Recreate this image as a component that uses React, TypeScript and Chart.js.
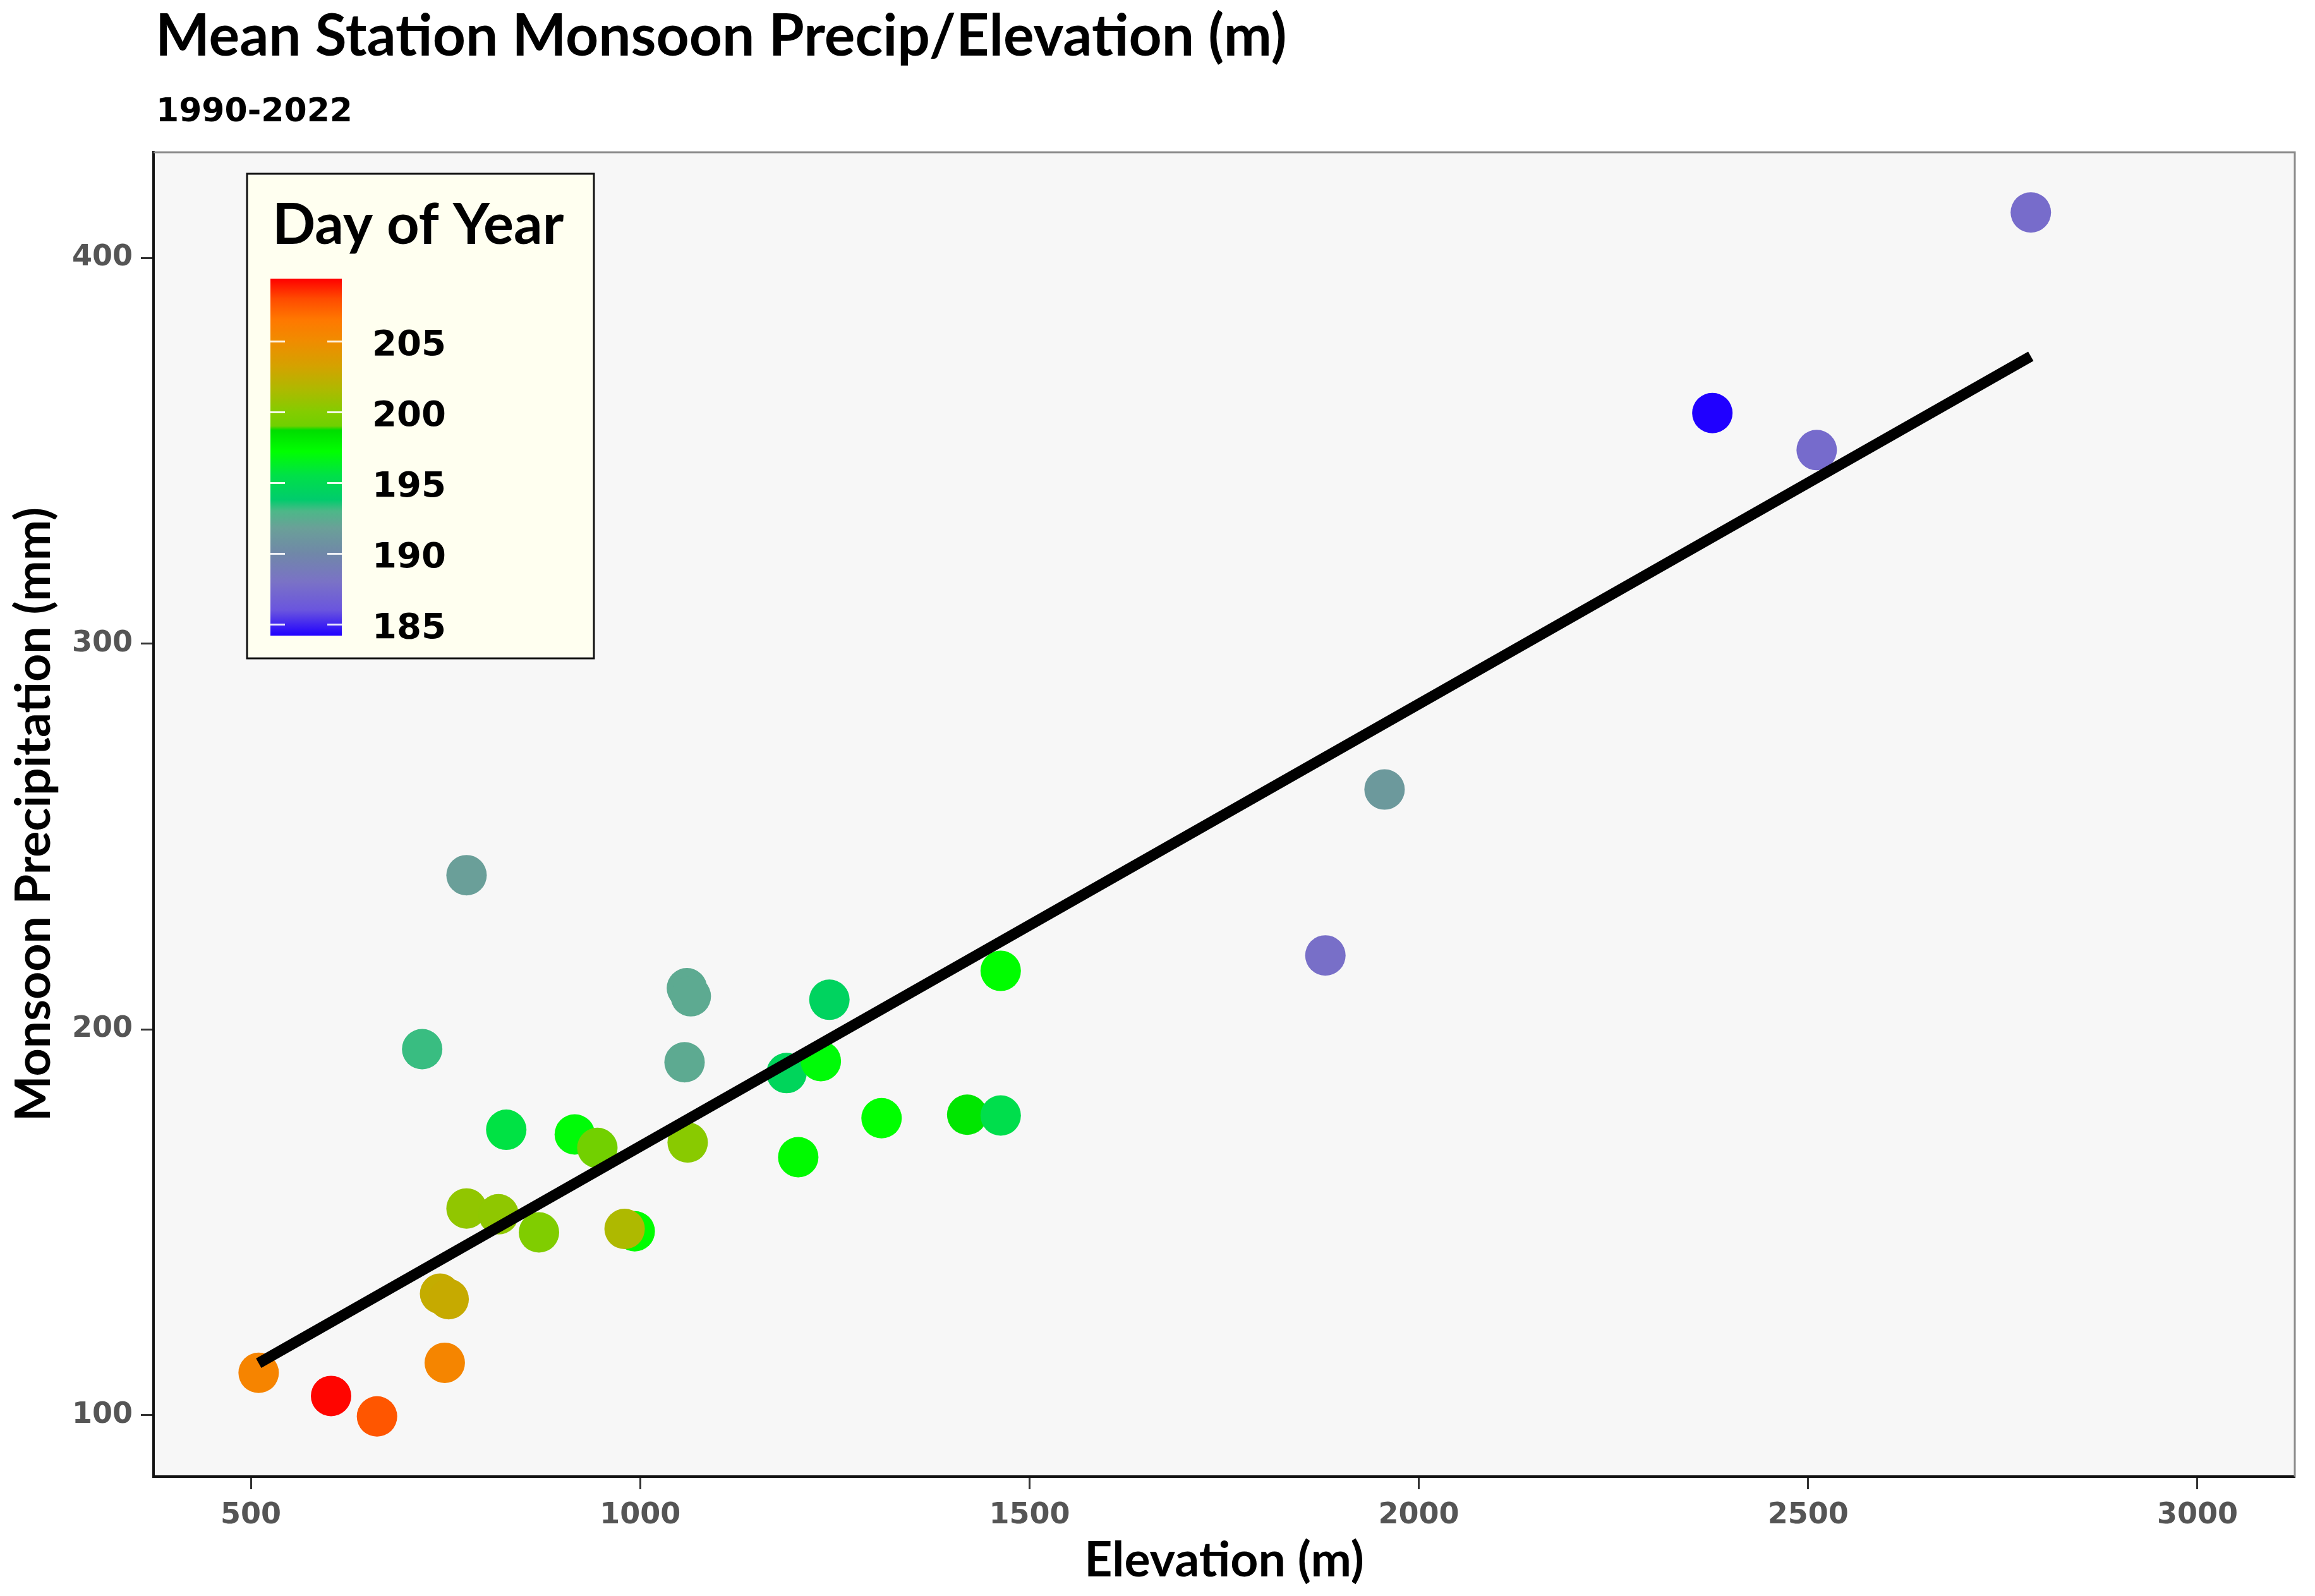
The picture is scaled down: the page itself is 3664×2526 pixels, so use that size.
import React, { useEffect, useRef } from "react";
import { Chart, registerables } from "chart.js";

Chart.register(...registerables);

// ---- Data ----
const elevation = [510, 603, 662, 749, 743, 754, 777, 818, 870, 993, 980, 828, 916, 945, 1061, 1203, 1310, 1420, 1463, 1188, 1232, 1243, 1463, 1057, 1060, 1065, 720, 777, 1956, 1880, 2786, 2377, 2511];
const precip = [111.0, 105.0, 99.7, 113.6, 131.5, 130.1, 153.6, 152.1, 147.4, 147.7, 148.3, 174.0, 172.8, 169.3, 170.7, 166.9, 177.0, 177.9, 177.7, 188.7, 191.8, 207.7, 215.2, 191.5, 210.7, 208.6, 194.9, 240.0, 262.2, 219.2, 411.8, 359.8, 350.2];
const dayOfYear = [205.6, 209.3, 207.6, 205.5, 202.5, 202.6, 200.5, 200.4, 199.8, 197.3, 201.6, 195.6, 197.0, 199.1, 200.2, 197.4, 197.2, 198.3, 195.3, 194.6, 197.0, 194.4, 197.3, 192.3, 192.3, 192.3, 193.2, 191.7, 191.3, 187.8, 187.6, 184.2, 187.5];

const fitLineX = [510, 2786];
const fitLineY = [113.5, 374.5];

const xTicks = [500, 1000, 1500, 2000, 2500, 3000];
const yTicks = [100, 200, 300, 400];
const legendTicks = [185, 190, 195, 200, 205];

const dayMin = 184.2;
const dayMax = 209.4;
const gradientDays = [184.2, 186.0, 188.0, 190.0, 191.8, 193.0, 193.8, 195.5, 197.2, 198.7, 199.0, 200.0, 201.5, 203.2, 205.0, 206.5, 208.0, 209.4];
const gradientColors = ["#2000FF", "#6A55DE", "#7A72C6", "#7088A8", "#6AA098", "#4CB888", "#00CC6C", "#00E048", "#00FF00", "#00DD00", "#70D000", "#84CC00", "#ACBA00", "#D4A200", "#F08C00", "#FF7800", "#FF4A00", "#FF0000"];

const titleText = "Mean Station Monsoon Precip/Elevation (m)";
const subtitleText = "1990-2022";
const xTitle = "Elevation (m)";
const yTitle = "Monsoon Precipitation (mm)";
const legendTitle = "Day of Year";

function hexToRgb(h: string) {
  const n = parseInt(h.slice(1), 16);
  return [(n >> 16) & 255, (n >> 8) & 255, n & 255];
}
function colorFor(d: number) {
  if (d <= gradientDays[0]) return gradientColors[0];
  for (let i = 1; i < gradientDays.length; i++) {
    if (d <= gradientDays[i]) {
      const t = (d - gradientDays[i - 1]) / (gradientDays[i] - gradientDays[i - 1]);
      const a = hexToRgb(gradientColors[i - 1]);
      const b = hexToRgb(gradientColors[i]);
      const c = a.map((v, k) => Math.round(v + (b[k] - v) * t));
      return `rgb(${c[0]},${c[1]},${c[2]})`;
    }
  }
  return gradientColors[gradientColors.length - 1];
}

const W = 3664;
const H = 2526;

const decorPlugin = {
  id: "decor",
  beforeDraw(chart: any) {
    const { ctx, chartArea: a } = chart;
    ctx.save();
    ctx.fillStyle = "#ffffff";
    ctx.fillRect(0, 0, W, H);
    ctx.fillStyle = "#F7F7F7";
    ctx.fillRect(a.left, a.top, a.right - a.left, a.bottom - a.top);
    ctx.restore();
  },
  afterDraw(chart: any) {
    const { ctx, chartArea: a } = chart;
    ctx.save();
    // top/right panel border
    ctx.strokeStyle = "#8a8a8a";
    ctx.lineWidth = 3;
    ctx.beginPath();
    ctx.moveTo(a.left, a.top);
    ctx.lineTo(a.right, a.top);
    ctx.lineTo(a.right, a.bottom);
    ctx.stroke();

    // titles
    ctx.fillStyle = "#000";
    ctx.textAlign = "left";
    ctx.textBaseline = "alphabetic";
    ctx.font = "bold 91px Lato";
    ctx.fillText(titleText, 246, 88);
    ctx.font = "bold 52px 'DejaVu Sans'";
    ctx.fillText(subtitleText, 247, 192);

    // legend box
    const bx = 391, by = 275, bw = 549, bh = 767;
    ctx.fillStyle = "#FFFFF0";
    ctx.fillRect(bx, by, bw, bh);
    ctx.strokeStyle = "#111";
    ctx.lineWidth = 3;
    ctx.strokeRect(bx, by, bw, bh);

    ctx.fillStyle = "#000";
    ctx.font = "bold 90px Lato";
    ctx.fillText(legendTitle, 431, 386);

    const barX = 428, barW = 113, barTop = 441, barBot = 1006;
    const yOf = (d: number) => barTop + ((dayMax - d) / (dayMax - dayMin)) * (barBot - barTop);
    const g = ctx.createLinearGradient(0, barTop, 0, barBot);
    for (let i = 0; i < gradientDays.length; i++) {
      const f = (dayMax - gradientDays[i]) / (dayMax - dayMin);
      g.addColorStop(Math.min(1, Math.max(0, f)), gradientColors[i]);
    }
    ctx.fillStyle = g;
    ctx.fillRect(barX, barTop, barW, barBot - barTop);

    ctx.strokeStyle = "rgba(255,255,255,0.9)";
    ctx.lineWidth = 3;
    ctx.font = "bold 56px 'DejaVu Sans'";
    ctx.textBaseline = "middle";
    for (const t of legendTicks) {
      const y = Math.round(yOf(t)) + 0.5;
      ctx.beginPath();
      ctx.moveTo(barX, y);
      ctx.lineTo(barX + 23, y);
      ctx.moveTo(barX + barW - 23, y);
      ctx.lineTo(barX + barW, y);
      ctx.stroke();
      ctx.fillStyle = "#000";
      ctx.fillText(String(t), 589, y + 7);
    }
    ctx.restore();
  },
};

export default function App() {
  const ref = useRef<HTMLCanvasElement | null>(null);

  useEffect(() => {
    if (!ref.current) return;
    const points = elevation.map((x, i) => ({ x, y: precip[i] }));
    const colors = dayOfYear.map(colorFor);
    const fit = fitLineX.map((x, i) => ({ x, y: fitLineY[i] }));

    const tickFont = { family: "'DejaVu Sans'", weight: "bold" as const, size: 46 };
    const axisTitleFont = { family: "Lato", weight: "bold" as const, size: 77 };

    const chart = new Chart(ref.current, {
      type: "scatter",
      data: {
        datasets: [
          {
            type: "line",
            data: fit,
            borderColor: "#000",
            borderWidth: 17,
            borderCapStyle: "butt",
            pointRadius: 0,
            fill: false,
            order: 0,
          } as any,
          {
            data: points,
            backgroundColor: colors,
            borderWidth: 0,
            pointRadius: 32,
            pointHoverRadius: 32,
            order: 1,
          },
        ],
      },
      plugins: [decorPlugin],
      options: {
        responsive: false,
        animation: false,
        devicePixelRatio: 1,
        layout: { padding: { top: 241, right: 30, left: 0, bottom: 0 } },
        plugins: {
          legend: { display: false },
          tooltip: { enabled: false },
          title: { display: false },
        },
        scales: {
          x: {
            type: "linear",
            min: 375,
            max: 3125,
            afterBuildTicks: (s: any) => {
              s.ticks = xTicks.map((v) => ({ value: v }));
            },
            afterFit: (s: any) => {
              s.height = 2526 - 2337;
            },
            grid: {
              display: true,
              drawOnChartArea: false,
              drawTicks: true,
              tickLength: 20,
              tickColor: "#333",
              tickWidth: 3,
            },
            border: { display: true, color: "#111", width: 4 },
            ticks: {
              font: tickFont,
              color: "#555",
              padding: 14,
              maxRotation: 0,
              callback: (v: any) => String(v),
            },
            title: {
              display: true,
              text: xTitle,
              color: "#000",
              font: axisTitleFont,
              padding: { top: 0, bottom: 10 },
            },
          },
          y: {
            type: "linear",
            min: 84.1,
            max: 427.4,
            afterBuildTicks: (s: any) => {
              s.ticks = yTicks.map((v) => ({ value: v }));
            },
            afterFit: (s: any) => {
              s.width = 243;
            },
            grid: {
              display: true,
              drawOnChartArea: false,
              drawTicks: true,
              tickLength: 20,
              tickColor: "#333",
              tickWidth: 3,
            },
            border: { display: true, color: "#111", width: 4 },
            ticks: {
              font: tickFont,
              color: "#555",
              padding: 13,
              callback: (v: any) => String(v),
            },
            title: {
              display: true,
              text: yTitle,
              color: "#000",
              font: axisTitleFont,
              padding: { top: 8, bottom: 0 },
            },
          },
        },
      },
    });
    return () => chart.destroy();
  }, []);

  return (
    <div style={{ position: "absolute", left: 0, top: 0, width: W, height: H, background: "#fff" }}>
      <canvas ref={ref} width={W} height={H} style={{ width: W, height: H, display: "block" }} />
    </div>
  );
}
